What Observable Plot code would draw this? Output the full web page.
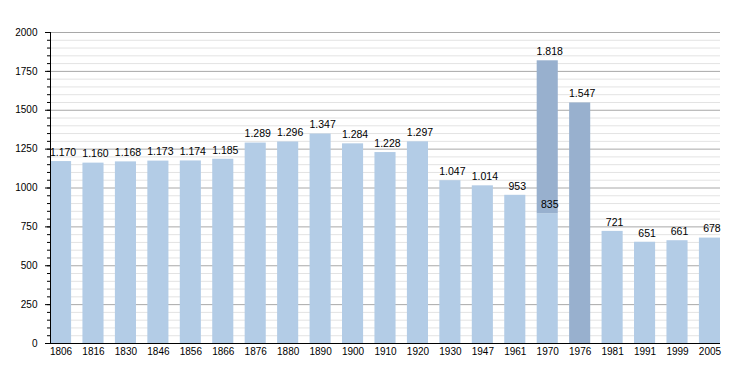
<!DOCTYPE html>
<html>
<head>
<meta charset="utf-8">
<script src="https://cdn.jsdelivr.net/npm/d3@7"></script>
<script src="https://cdn.jsdelivr.net/npm/@observablehq/plot@0.6"></script>
<style>
  html, body { margin: 0; padding: 0; background: #fff; }
  svg { display: block; }
</style>
</head>
<body>
<div id="chart"></div>
<script>
const years = ["1806","1816","1830","1846","1856","1866","1876","1880","1890","1900","1910","1920","1930","1947","1961","1970","1976","1981","1991","1999","2005"];
const population = [1170,1160,1168,1173,1174,1185,1289,1296,1347,1284,1228,1297,1047,1014,953,835,1547,721,651,661,678];
const darkYears = ["1976"];
const stackedYear = "1970";
const stackedTotal = 1818;
const majorTicks = [0,250,500,750,1000,1250,1500,1750,2000];

const fmt = v => d3.format(",")(v).replace(/,/g, ".");

const base = years.map((y, i) => ({year: y, y1: 0, y2: population[i], dark: darkYears.includes(y)}));
const extra = [{year: stackedYear, y1: population[years.indexOf(stackedYear)], y2: stackedTotal, dark: true}];
const bars = base.concat(extra);
const labels = base.map(d => ({year: d.year, v: d.y2})).concat([{year: stackedYear, v: stackedTotal}]);

const light = "#b3cce6";
const darkC = "#98b0ce";

const chart = Plot.plot({
  width: 750,
  height: 373,
  marginLeft: 50,
  marginRight: 30,
  marginTop: 32,
  marginBottom: 30,
  style: {fontFamily: "'Liberation Sans', Arial, sans-serif", fontSize: "10px", color: "#000", background: "#fff"},
  x: {domain: years, paddingInner: 0.35, paddingOuter: 0, round: false, label: null},
  y: {domain: [0, 2000], label: null},
  marks: [
    Plot.ruleY(d3.range(0, 2001, 50).filter(v => v % 250 !== 0), {stroke: "#e3e3e3", strokeWidth: 1}),
    Plot.ruleY(majorTicks, {stroke: "#a8a8a8", strokeWidth: 1}),
    Plot.barY(bars, {x: "year", y1: "y1", y2: "y2", fill: d => d.dark ? darkC : light}),
    Plot.text(labels, {x: "year", y: "v", text: d => fmt(d.v), dy: -9, dx: 2, fill: "#000", fontSize: 10.5}),
    Plot.ruleY([0], {stroke: "#000", strokeWidth: 1}),
    Plot.frame({anchor: "left", stroke: "#000"}),
    Plot.axisY({ticks: d3.range(0, 2001, 50), tickSize: 3, text: null, stroke: "#000"}),
    Plot.axisY({ticks: majorTicks, tickSize: 5, tickPadding: 8, tickFormat: d => String(d), stroke: "#000", fill: "#000", fontSize: 10, label: null}),
    Plot.axisX({tickSize: 0, tickPadding: 4, fill: "#000", fontSize: 10, label: null})
  ]
});
document.getElementById("chart").appendChild(chart);
</script>
</body>
</html>
